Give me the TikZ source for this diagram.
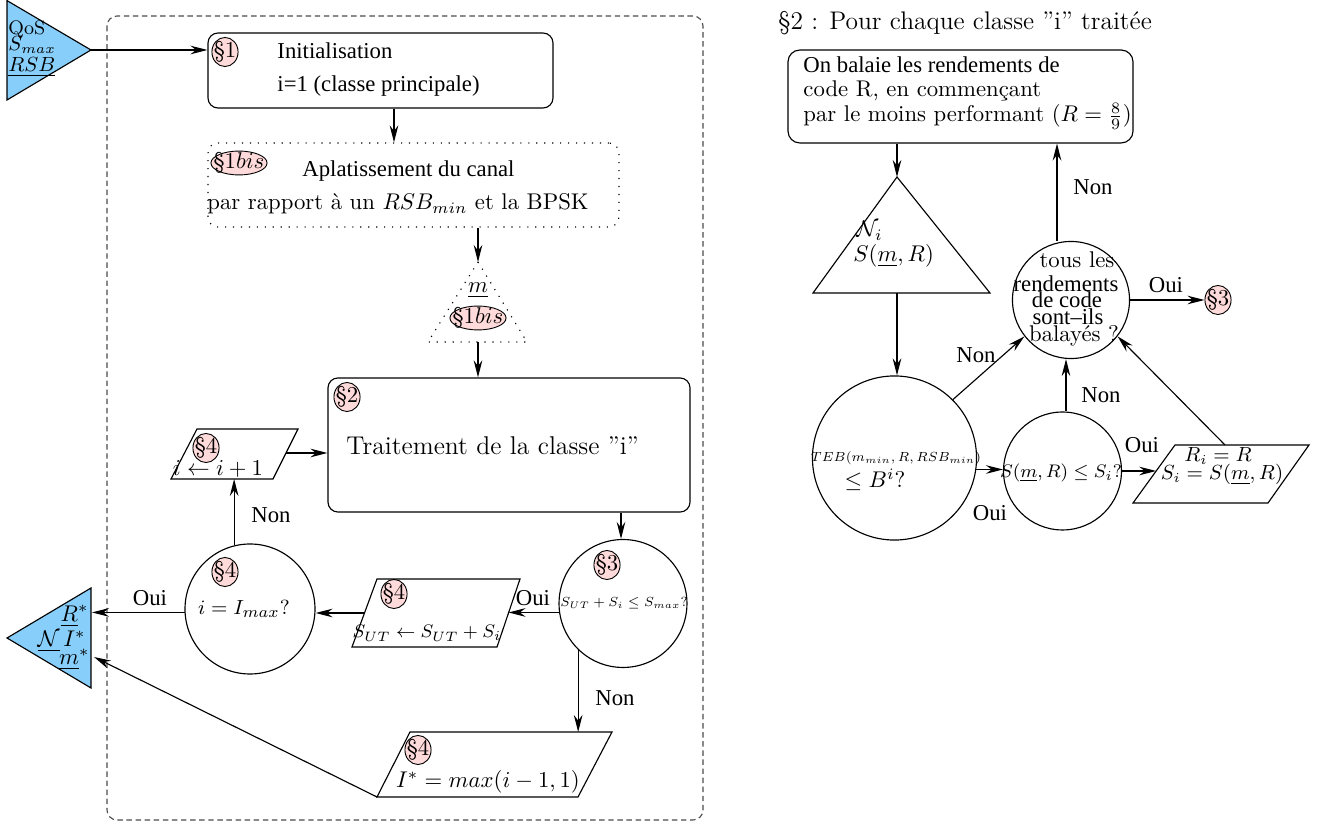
\documentclass[tikz,border=0pt]{standalone}
\usepackage{fontspec}
\usepackage{amsmath}
\usepackage{graphicx}
\newfontfamily\tms{Liberation Serif}
\usetikzlibrary{arrows.meta,shapes.geometric,calc}
\definecolor{skyb}{RGB}{135,206,250}
\definecolor{secpink}{RGB}{255,218,218}
\newcommand{\fsz}[1]{\fontsize{#1}{1.2\dimexpr#1pt\relax}\selectfont}
\begin{document}
\begin{tikzpicture}[x=0.44pt,y=-0.44pt,
  ln/.style={line width=0.5pt},
  arr/.style={line width=0.5pt,-{Stealth[length=7.5pt,width=3.8pt,inset=2.5pt]}},
  sec/.style={ellipse,draw,fill=secpink,line width=0.4pt,inner sep=-3pt,minimum width=11.5pt,minimum height=12.8pt},
  secb/.style={ellipse,draw,fill=secpink,line width=0.4pt,inner xsep=-2.4pt,inner ysep=-3pt,minimum height=10.5pt},
  circ/.style={circle,draw,line width=0.5pt,inner sep=0pt},
  rbox/.style={draw,line width=0.5pt,rounded corners=4.4pt,inner sep=0pt},
  dotbox/.style={dash pattern=on 0.5pt off 3pt},
  frame/.style={draw=black!70,line width=0.5pt,dash pattern=on 2.4pt off 1.6pt,rounded corners=4.4pt},
  txt/.style={inner sep=0pt},
  lbl/.style={inner sep=0pt,font=\tms}]
\useasboundingbox (0,0) rectangle (1324,826);

% dashed frame
\draw[frame] (107,16) rectangle (703,820);

% helper x coordinates
\coordinate (x394) at (394,0);
\coordinate (x621) at (621,0);
\coordinate (x1066) at (1066,0);
\coordinate (x1057) at (1057,0);
\coordinate (outX) at (92,0);

% input triangle
\draw[ln,fill=skyb] (7,0.6) -- (91,50) -- (7,100) -- cycle;
\coordinate (inTip) at (91,50);
\node[txt,anchor=base west,font=\fsz{8.6}] (inQ) at (8,35) {QoS};
\node[txt,anchor=base west,font=\fsz{8.6}] (inS) at (8,51) {$S_{max}$};
\node[txt,anchor=base west,font=\fsz{8.6}] (inR) at (8,72) {\underline{$RSB$}};

% section 1
\node[rbox,minimum width=151.8pt,minimum height=33pt] (s1) at (380.5,70.5) {};
\node[sec] (e1) at (225,52) {§1};
\node[txt,font=\tms,anchor=base west] (t1a) at (277,59) {Initialisation};
\node[txt,font=\tms,anchor=base west] (t1b) at (277,92) {i=1 (classe principale)};
\draw[arr] (inTip) -- (inTip -| s1.west);

% section 1bis
\node[rbox,dotbox,minimum width=180.8pt,minimum height=37pt] (s1b) at (413.5,185) {};
\node[secb] (e1b) at (239,163) {§1$bis$};
\node[txt,font=\tms,anchor=base west] (t1ba) at (302,177) {Aplatissement du canal};
\node[txt,anchor=base west] (t1bb) at (207,210) {par rapport à un $RSB_{min}$ et la BPSK};
\draw[arr] (s1.south -| x394) -- (s1b.north -| x394);

% small dotted triangle
\draw[ln,dotbox] (478,262) -- (527,342) -- (428,342) -- cycle;
\coordinate (t2top) at (478,262);
\coordinate (t2bot) at (478,342);
\node[txt,anchor=base] (tm) at (478,293) {$\underline{m}$};
\node[secb] (e1c) at (478,318) {§1$bis$};
\draw[arr] (s1b.south -| t2top) -- (t2top);

% section 2 box
\node[rbox,minimum width=159.3pt,minimum height=59pt] (s2) at (509,445) {};
\node[sec] (e2) at (347,397) {§2};
\node[txt,anchor=base west,font=\fsz{11.3}] (t2) at (346,455) {Traitement de la classe ''i''};
\draw[arr] (t2bot) -- (t2bot |- s2.north);

% parallelogram i <- i+1
\coordinate (p1a) at (197,429);
\coordinate (p1b) at (298,429);
\coordinate (p1c) at (273,479);
\coordinate (p1d) at (171,479);
\draw[ln] (p1a) -- (p1b) -- (p1c) -- (p1d) -- cycle;
\node[sec] (e4a) at (206,448) {§4};
\node[txt,anchor=base] (tp1) at (218,476) {$i \leftarrow i+1$};
\coordinate (p1r) at ($(p1b)!0.48!(p1c)$);
\draw[arr] (p1r) -- (p1r -| s2.west);

% circle i = Imax
\node[circ,minimum size=57.2pt] (c4) at (250,609) {};
\node[sec] (e4b) at (225,572) {§4};
\node[txt,anchor=base,font=\fsz{9.3}] (tc4) at (244,615) {$i = I_{max}?$};
\draw[arr] (c4.104) -- (c4.104 |- p1d);
\node[lbl] (nonA) at (271,515) {Non};

% output triangle
\draw[ln,fill=skyb] (7,638) -- (91,588) -- (91,688) -- cycle;
\coordinate (outM) at (94,657);
\node[txt,anchor=base east] (oR) at (89,622) {$\underline{R}^*$};
\node[txt,anchor=base east] (oI) at (86,647) {$\underline{\mathcal{N}}\,I^*$};
\node[txt,anchor=base east] (oM) at (90,665) {$\underline{m}^*$};
\draw[arr] (c4.183) -- (c4.183 -| outX);
\node[lbl] (ouiA) at (150,598) {Oui};

% circle section 3
\node[circ,minimum size=56.3pt] (c3) at (623,603.5) {};
\node[sec] (e3) at (607,565) {§3};
\node[txt,anchor=base,font=\scriptsize] (tc3) at (624,607) {\scalebox{0.83}{$S_{UT}+S_i \le S_{max}?$}};
\draw[arr] (s2.south -| x621) -- (c3.north -| x621);

% parallelogram S_UT
\coordinate (pSa) at (377,579);
\coordinate (pSb) at (520,579);
\coordinate (pSc) at (497,647);
\coordinate (pSd) at (352,647);
\draw[ln] (pSa) -- (pSb) -- (pSc) -- (pSd) -- cycle;
\node[sec] (e4c) at (394,594) {§4};
\node[txt,anchor=base,font=\fsz{7.9}] (tpS) at (427,638) {$S_{UT}\leftarrow S_{UT}+S_i$};
\coordinate (pSr) at ($(pSb)!0.5!(pSc)$);
\coordinate (pSl) at ($(pSa)!0.5!(pSd)$);
\draw[arr] (c3.188) -- (c3.188 -| pSr);
\node[lbl] (ouiB) at (533,598) {Oui};
\draw[arr] (pSl) -- (pSl -| c4.east);

% bottom parallelogram
\coordinate (pBa) at (410,732);
\coordinate (pBb) at (612,732);
\coordinate (pBc) at (578,797);
\coordinate (pBd) at (377,797);
\draw[ln] (pBa) -- (pBb) -- (pBc) -- (pBd) -- cycle;
\node[sec] (e4d) at (418,750) {§4};
\node[txt,anchor=base] (tpB) at (488,788) {$I^* = max(i-1,1)$};
\draw[arr] (c3.-134) -- (c3.-134 |- pBa);
\node[lbl] (nonB) at (615,698) {Non};
\draw[arr] (pBd) -- (outM);

% ---------------- right part ----------------
\node[txt,anchor=base west,font=\fsz{11.2}] (title) at (778,30) {§2 : Pour chaque classe ''i'' traitée};
\node[rbox,rounded corners=5.2pt,minimum width=151.8pt,minimum height=40.9pt] (rb) at (960.5,96.5) {};
\node[txt,font=\tms,anchor=base west] (rb1) at (803,73) {On balaie les rendements de};
\node[txt,anchor=base west] (rb2) at (803,97) {code R, en commençant};
\node[txt,anchor=base west] (rb3) at (803,122) {par le moins performant ($R=\frac{8}{9}$)};

% triangle N_i
\draw[ln] (897,177) -- (990,293) -- (813,293) -- cycle;
\coordinate (tNtop) at (897,177);
\coordinate (tNbot) at (897,293);
\node[txt,anchor=base west] (tN1) at (856,237) {$\mathcal{N}_i$};
\node[txt,anchor=base west] (tN2) at (853,262) {$S(\underline{m},R)$};
\draw[arr] (rb.south -| tNtop) -- (tNtop);

% TEB circle
\node[circ,minimum size=72.2pt] (cT) at (894.5,458) {};
\node[txt,anchor=base,font=\scriptsize] (tT1) at (896,462) {\scalebox{0.83}{$TEB(m_{min},R,RSB_{min})$}};
\node[txt,anchor=base] (tT2) at (875,488) {$\le B^i?$};
\draw[arr] (tNbot) -- (tNbot |- cT.north);

% S circle
\node[circ,minimum size=51.9pt] (cS) at (1062.5,471) {};
\node[txt,anchor=base,font=\fsz{8.2}] (tS) at (1061,478) {$S(\underline{m},R)\le S_i?$};
\draw[arr] (cT.-8) -- (cT.-8 -| cS.west);
\node[lbl] (ouiC) at (990,513) {Oui};

% "tous les" circle
\node[circ,minimum size=51.5pt] (cA) at (1071,300) {};
\node[txt,anchor=base] (tA1) at (1077,268) {tous les};
\node[txt,font=\tms,anchor=base] (tA2) at (1066,292) {rendements};
\node[txt,font=\tms,anchor=base] (tA3) at (1067,308) {de code};
\node[txt,font=\tms,anchor=base] (tA4) at (1068,325) {sont–ils};
\node[txt,anchor=base] (tA5) at (1074,342) {balayés ?};

\draw[arr] (cT.45) -- (cA.218);
\node[lbl] (nonC) at (976,355) {Non};
\draw[arr] (cS.north -| x1066) -- (cA.south -| x1066);
\node[lbl] (nonD) at (1101,395) {Non};

% parallelogram R_i
\coordinate (pRa) at (1175,445);
\coordinate (pRb) at (1309,445);
\coordinate (pRc) at (1268,503);
\coordinate (pRd) at (1133,503);
\draw[ln] (pRa) -- (pRb) -- (pRc) -- (pRd) -- cycle;
\node[txt,anchor=base,font=\fsz{9}] (tR1) at (1218,462) {$R_i = R$};
\node[txt,anchor=base,font=\fsz{9}] (tR2) at (1222,480) {$S_i = S(\underline{m},R)$};
\coordinate (pRl) at ($(pRa)!0.448!(pRd)$);
\coordinate (pRt) at (1225,445);
\draw[arr] (cS.east) -- (cS.east -| pRl);
\node[lbl] (ouiD) at (1142,445) {Oui};
\draw[arr] (pRt) -- (cA.-38);

% up to top box and to section 3
\draw[arr] (cA.north -| x1057) -- (rb.south -| x1057);
\node[lbl] (nonE) at (1093,187) {Non};
\node[sec] (e3r) at (1218,300) {§3};
\draw[arr] (cA.east) -- (e3r.west);
\node[lbl] (ouiE) at (1166,285) {Oui};
\end{tikzpicture}
\end{document}
